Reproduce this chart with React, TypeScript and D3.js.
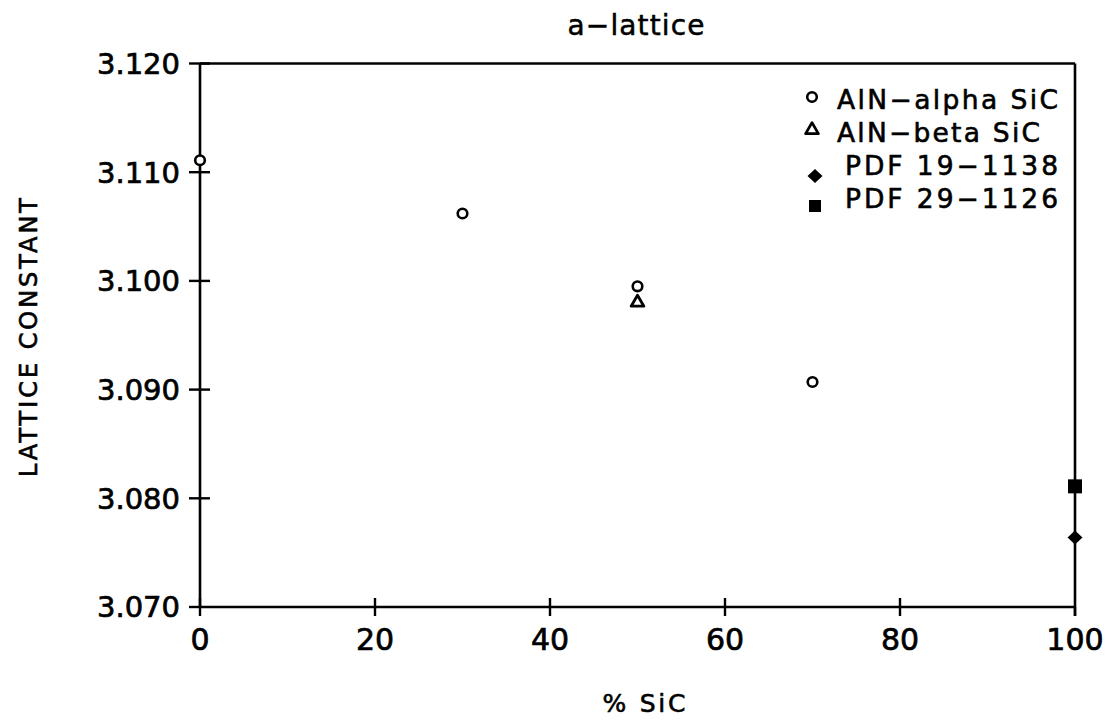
import React from "react";
import * as d3 from "d3";

// Lattice constant (a) vs. SiC content
const alphaX = [0, 30, 50, 70];
const alphaY = [3.1111, 3.1062, 3.0995, 3.0907];
const betaX = [50];
const betaY = [3.0981];
const pdf19X = [100];
const pdf19Y = [3.0764];
const pdf29X = [100];
const pdf29Y = [3.0811];

const xTicks = [0, 20, 40, 60, 80, 100];
const yTicks = [3.07, 3.08, 3.09, 3.1, 3.11, 3.12];

const legendLabels = ["AlN\u2212alpha SiC", "AlN\u2212beta SiC", "PDF 19\u22121138", "PDF 29\u22121126"];

const W = 1115;
const H = 724;
const FONT = "'DejaVu Sans', sans-serif";
// slight outline so the glyphs read as heavy as the plotted strokes
const INK = { fill: "#000", stroke: "#000", strokeWidth: 0.7 };

export default function App() {
  const x = d3.scaleLinear().domain([0, 100]).range([200, 1075]);
  const y = d3.scaleLinear().domain([3.07, 3.12]).range([607, 63.5]);
  const [x0, x1] = x.range();
  const [yb, yt] = y.range();

  const tri = d3.symbol().type(d3.symbolTriangle).size(70)() as string;
  const diamond = "M0,-7L7.5,0L0,7L-7.5,0Z";

  const circle = (cx: number, cy: number, k: string) => (
    <circle key={k} cx={cx} cy={cy} r={4.8} fill="#fff" stroke="#000" strokeWidth={2.6} />
  );
  const triangle = (cx: number, cy: number, k: string) => (
    <path key={k} d={tri} transform={`translate(${cx},${cy + 1})`} fill="#fff" stroke="#000" strokeWidth={2.8} strokeLinejoin="round" />
  );
  const dia = (cx: number, cy: number, k: string) => (
    <path key={k} d={diamond} transform={`translate(${cx},${cy})`} fill="#000" />
  );
  const square = (cx: number, cy: number, k: string, s = 14) => (
    <rect key={k} x={cx - s / 2} y={cy - s / 2} width={s} height={s} fill="#000" />
  );

  const legend = [
    { mx: 812, my: 97, tx: 837, by: 109, len: 221, m: (a: number, b: number) => circle(a, b, "lc") },
    { mx: 812, my: 129, tx: 837, by: 142, len: 203, m: (a: number, b: number) => triangle(a, b, "lt") },
    { mx: 815, my: 176, tx: 845, by: 175, len: 213, m: (a: number, b: number) => dia(a, b, "ld") },
    { mx: 815, my: 206, tx: 845, by: 208, len: 213, m: (a: number, b: number) => square(a, b, "ls", 12) },
  ];

  return (
    <svg width={W} height={H} style={{ display: "block", position: "absolute", left: 0, top: 0, background: "#fff" }}>
      <rect width={W} height={H} fill="#fff" />
      <text x={636} y={35} textAnchor="middle" fontFamily={FONT} fontSize={28} {...INK} strokeWidth={0.5} textLength={137} lengthAdjust="spacing">
        a−lattice
      </text>

      {/* frame */}
      <g stroke="#000" strokeWidth={2.6} fill="none">
        <line x1={x0} y1={yt} x2={x1} y2={yt} />
        <line x1={x0} y1={yb} x2={x1} y2={yb} />
        <line x1={x0} y1={yt} x2={x0} y2={yb} />
        <line x1={x1} y1={yt} x2={x1} y2={yb + 9} />
      </g>

      {/* y ticks */}
      <g>
        {yTicks.map((t) => (
          <g key={t}>
            <line x1={x0 - 11} x2={t === 3.07 ? x0 : x0 + 10} y1={y(t)} y2={y(t)} stroke="#000" strokeWidth={2.4} />
            <text x={180} y={y(t)} dy="0.36em" textAnchor="end" fontFamily={FONT} fontSize={29} {...INK}>
              {d3.format(".3f")(t)}
            </text>
          </g>
        ))}
      </g>

      {/* x ticks */}
      <g>
        {xTicks.map((t) => (
          <g key={t}>
            <line x1={x(t)} x2={x(t)} y1={t === 100 ? yb : yb - 9} y2={yb + 9} stroke="#000" strokeWidth={2.4} />
            <text x={x(t)} y={650} textAnchor="middle" fontFamily={FONT} fontSize={30} {...INK}>
              {t}
            </text>
          </g>
        ))}
      </g>

      <text x={644} y={712} textAnchor="middle" fontFamily={FONT} fontSize={25} {...INK} strokeWidth={0.6} textLength={83} lengthAdjust="spacing">
        % SiC
      </text>
      <text
        transform={`translate(37,${337.5}) rotate(-90)`}
        textAnchor="middle"
        fontFamily={FONT}
        fontSize={24}
        {...INK}
        strokeWidth={0.6}
        textLength={279}
        lengthAdjust="spacing"
      >
        LATTICE CONSTANT
      </text>

      {/* data */}
      <g>
        {alphaX.map((v, i) => circle(x(v), y(alphaY[i]), `a${i}`))}
        {betaX.map((v, i) => triangle(x(v), y(betaY[i]), `b${i}`))}
        {pdf19X.map((v, i) => dia(x(v), y(pdf19Y[i]), `d${i}`))}
        {pdf29X.map((v, i) => square(x(v), y(pdf29Y[i]), `s${i}`))}
      </g>

      {/* legend */}
      <g>
        {legend.map((l, i) => (
          <g key={i}>
            {l.m(l.mx, l.my)}
            <text x={l.tx} y={l.by} fontFamily={FONT} fontSize={26.5} {...INK} strokeWidth={0.6} textLength={l.len} lengthAdjust="spacing">
              {legendLabels[i]}
            </text>
          </g>
        ))}
      </g>
    </svg>
  );
}
